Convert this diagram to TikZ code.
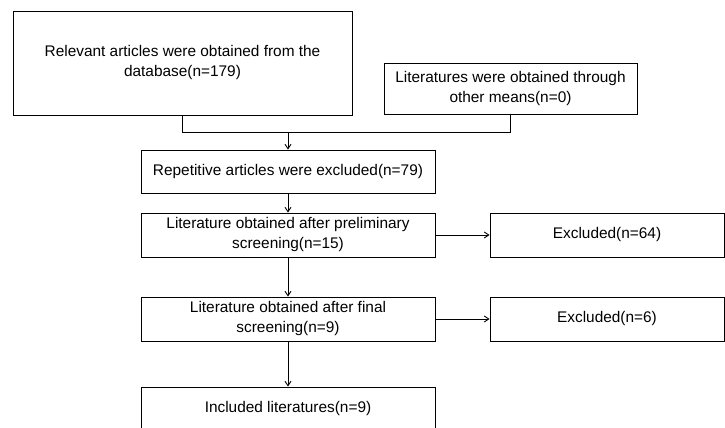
\documentclass[tikz,border=0pt]{standalone}
\usepackage{fontspec}
\setmainfont{Liberation Sans}
\usetikzlibrary{arrows.meta, positioning, calc}

\begin{document}
\begin{tikzpicture}[x=1pt, y=-1pt, font=\fontsize{15.4}{20}\selectfont,
    box/.style={draw, line width=0.9pt, align=center, inner sep=0pt},
    arr/.style={-{Straight Barb[length=4.5pt, width=6pt]}, line width=0.9pt}]
    \useasboundingbox (0,0) rectangle (725,428);
    \clip (0,0) rectangle (725,428);
    \node[box, minimum width=339, minimum height=104] (db) at (182.5,63) {Relevant articles were obtained from the\\ database(n=179)};
    \node[box, minimum width=253, minimum height=51] (other) at (510.5,88.5) {Literatures were obtained through\\ other means(n=0)};
    \node[box, minimum width=294, minimum height=43] (dup) at (288,171.5) {Repetitive articles were excluded(n=79)};
    \node[box, minimum width=294, minimum height=44] (prelim) at (288,235) {Literature obtained after preliminary\\ screening(n=15)};
    \node[box, minimum width=234, minimum height=44] (excl1) at (607,235) {Excluded(n=64)};
    \node[box, minimum width=294, minimum height=44] (final) at (288,319) {Literature obtained after final\\ screening(n=9)};
    \node[box, minimum width=234, minimum height=44] (excl2) at (607,319) {Excluded(n=6)};
    \node[box, minimum width=294, minimum height=44] (incl) at (288,409) {Included literatures(n=9)};
    % merge of the two sources
    \coordinate (merge) at (288,132);
    \draw[line width=0.9pt] (db.south) -- (db.south |- merge) -- (other.south |- merge) -- (other.south);
    \draw[arr] (merge) -- (dup.north);
    \draw[arr] (dup) -- (prelim);
    \draw[arr] (prelim) -- (final);
    \draw[arr] (final) -- (incl);
    \draw[arr] (prelim) -- (excl1);
    \draw[arr] (final) -- (excl2);
\end{tikzpicture}
\end{document}
